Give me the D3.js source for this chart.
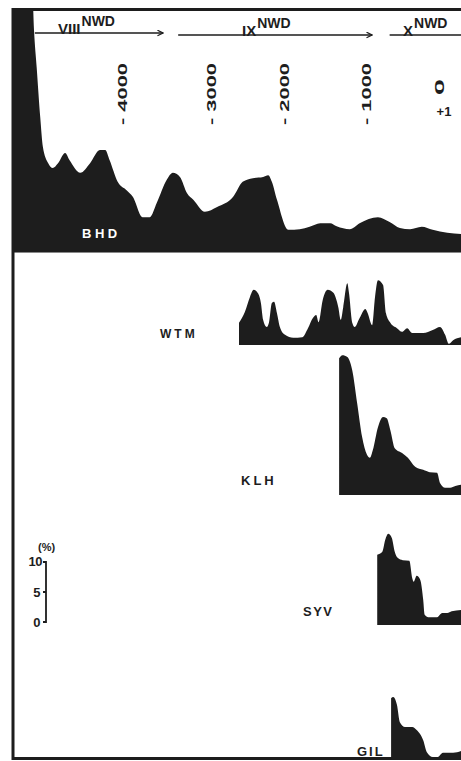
<!DOCTYPE html>
<html>
<head>
<meta charset="utf-8">
<script src="https://cdn.jsdelivr.net/npm/d3@7"></script>
<style>
  body { margin: 0; background: #fff; }
  svg { display: block; font-family: "Liberation Sans", Arial, sans-serif; }
</style>
</head>
<body>
<svg id="chart" width="461" height="761"></svg>
<script>
// years (cal. BC negative) and pollen values in %
const bhdYears = [-5250, -5030, -5000, -4970, -4930, -4900, -4840, -4790, -4730, -4650, -4600, -4480, -4370, -4260, -4200, -4150, -4060, -3960, -3890, -3780, -3700, -3620, -3510, -3440, -3360, -3280, -3210, -3080, -2930, -2710, -2580, -2440, -2300, -2230, -2180, -2110, -1960, -1820, -1700, -1570, -1450, -1370, -1210, -1090, -850, -690, -550, -410, -250, -100, 100, 290];
const bhdPct = [48, 48, 37.0, 30.8, 22.5, 17.5, 14.8, 14.0, 14.8, 16.5, 15.3, 13.2, 14.8, 17.0, 17.0, 15.3, 11.7, 10.3, 9.2, 5.8, 5.8, 8.2, 12.0, 13.2, 12.5, 9.8, 8.7, 6.7, 7.5, 9.2, 11.7, 12.3, 12.5, 12.8, 11.7, 8.7, 3.7, 3.8, 4.2, 4.8, 4.8, 4.3, 3.8, 4.8, 5.8, 5.0, 4.0, 3.8, 4.2, 3.7, 3.2, 3.0];

const wtmYears = [-2630, -2550, -2480, -2430, -2380, -2330, -2300, -2250, -2220, -2180, -2150, -2110, -2070, -2000, -1900, -1790, -1720, -1660, -1620, -1590, -1540, -1480, -1410, -1350, -1320, -1290, -1240, -1220, -1180, -1150, -1090, -1020, -990, -930, -890, -850, -780, -740, -680, -590, -520, -450, -380, -230, -100, 0, 70, 120, 180, 290];
const wtmPct = [3.7, 5.5, 8.0, 9.2, 8.8, 7.0, 4.2, 3.0, 3.7, 7.0, 7.2, 5.3, 3.0, 1.7, 1.2, 1.3, 2.8, 4.5, 5.0, 3.8, 7.5, 9.2, 8.7, 6.3, 4.2, 6.3, 10.3, 8.7, 3.7, 3.0, 4.5, 6.0, 5.3, 3.3, 8.0, 10.8, 10.0, 5.3, 3.7, 2.8, 2.2, 2.8, 2.0, 2.0, 2.5, 3.0, 1.7, 0.2, 0.8, 1.3];

const klhYears = [-1340, -1300, -1240, -1180, -1120, -1060, -1000, -960, -920, -850, -780, -730, -680, -620, -520, -440, -340, -230, -140, -40, 0, 70, 140, 210, 290];
const klhPct = [22.8, 23.3, 23.0, 20.8, 15.3, 9.7, 6.7, 6.2, 7.5, 11.3, 13.0, 12.8, 10.8, 7.8, 7.0, 6.2, 4.7, 4.2, 3.8, 3.7, 2.0, 1.2, 1.2, 1.5, 1.7];

const syvYears = [-860, -790, -750, -710, -660, -620, -580, -510, -420, -380, -360, -320, -270, -230, -210, -160, -40, 30, 100, 160, 290];
const syvPct = [11.7, 12.2, 14.2, 15.2, 14.5, 12.2, 11.2, 10.8, 10.7, 7.8, 7.2, 8.2, 7.5, 4.2, 1.7, 1.3, 1.3, 2.0, 2.0, 2.3, 2.5];

const gilYears = [-670, -640, -590, -550, -480, -380, -320, -230, -180, -100, -30, 40, 180, 290];
const gilPct = [9.8, 10.0, 8.7, 5.8, 5.0, 5.0, 4.5, 2.8, 0.8, 0, 0, 0.7, 0.7, 1.0];

const panelNames = ["BHD", "WTM", "KLH", "SYV", "GIL"];
const yearTicks = [-4000, -3000, -2000, -1000, 0];
const yearTickLabels = ["- 4000", "- 3000", "- 2000", "- 1000", "0"];
const zoneNames = ["VIII", "IX", "X"];
const zoneStart = [-4990, -3380, -690];
const zoneEnd = [-3550, -930, 400];
const scaleTicks = [0, 5, 10];

const series = [
    {years: bhdYears, pct: bhdPct},
    {years: wtmYears, pct: wtmPct},
    {years: klhYears, pct: klhPct},
    {years: syvYears, pct: syvPct},
    {years: gilYears, pct: gilPct}
];

// layout
const W = 461, H = 761;
const frameLeft = 13, frameTop = 9.5, frameBottom = 758.5;
const baselines = [252, 345, 495, 625, 757];
const pxPerPct = 6;
const ink = "#1d1d1d";
const labelPos = [
    {x: 82, y: 238, size: 13, ls: 3.5, fill: "#fff"},
    {x: 160, y: 338, size: 12, ls: 3, fill: ink},
    {x: 241, y: 485, size: 13, ls: 3, fill: ink},
    {x: 303, y: 616, size: 13, ls: 1.5, fill: ink},
    {x: 357, y: 756, size: 13, ls: 2, fill: ink}
];
const zoneLayout = [
    {lineY: 33, numX: 58},
    {lineY: 35, numX: 242},
    {lineY: 35, numX: 403}
];

const svg = d3.select("#chart");

// piecewise time axis (radiocarbon years are not evenly spaced along the core)
const x = d3.scaleLinear()
    .domain(yearTicks)
    .range([123, 212, 285, 367, 440]);

svg.append("defs").append("clipPath").attr("id", "plotClip")
    .append("rect")
    .attr("x", frameLeft).attr("y", frameTop)
    .attr("width", W - frameLeft).attr("height", frameBottom - frameTop);

svg.append("defs").append("marker")
    .attr("id", "arrow")
    .attr("viewBox", "0 0 10 10")
    .attr("refX", 9).attr("refY", 5)
    .attr("markerWidth", 7).attr("markerHeight", 7)
    .attr("markerUnits", "userSpaceOnUse")
    .attr("orient", "auto")
    .append("path")
    .attr("d", "M1,1 L9,5 L1,9")
    .attr("fill", "none")
    .attr("stroke", ink)
    .attr("stroke-width", 1.8);

const plots = svg.append("g").attr("clip-path", "url(#plotClip)");

series.forEach((s, i) => {
    const base = baselines[i];
    const y = d3.scaleLinear().domain([0, 10]).range([base, base - 10 * pxPerPct]);
    const pts = s.years.map((yr, j) => ({year: yr, v: s.pct[j]}));
    const area = d3.area()
        .x(d => x(d.year))
        .y0(y(0))
        .y1(d => y(d.v))
        .curve(d3.curveMonotoneX);
    plots.append("path")
        .datum(pts)
        .attr("d", area)
        .attr("fill", ink);

    const lp = labelPos[i];
    svg.append("text")
        .attr("x", lp.x).attr("y", lp.y)
        .attr("font-size", lp.size)
        .attr("font-weight", "bold")
        .attr("letter-spacing", lp.ls)
        .attr("fill", lp.fill)
        .text(panelNames[i]);
});

// BHD baseline
svg.append("line")
    .attr("x1", frameLeft).attr("x2", W)
    .attr("y1", baselines[0] + 0.5).attr("y2", baselines[0] + 0.5)
    .attr("stroke", "#888").attr("stroke-width", 1);

// frame
svg.append("path")
    .attr("d", `M${W},${frameTop} H${frameLeft} V${frameBottom} H${W}`)
    .attr("fill", "none")
    .attr("stroke", ink)
    .attr("stroke-width", 3);

// time labels
yearTicks.forEach((yr, i) => {
    const isZero = yr === 0;
    svg.append("text")
        .attr("transform", `translate(${x(yr)},${isZero ? 95 : 125}) rotate(-90)`)
        .attr("dy", "0.35em")
        .attr("font-size", 12)
        .attr("font-weight", "bold")
        .attr("fill", ink)
        .attr("textLength", isZero ? 16 : 62)
        .attr("lengthAdjust", "spacingAndGlyphs")
        .text(yearTickLabels[i]);
});
svg.append("text")
    .attr("x", x(0) + 4).attr("y", 116)
    .attr("text-anchor", "middle")
    .attr("font-size", 13)
    .attr("font-weight", "bold")
    .attr("fill", ink)
    .text("+1");

// NWD zones
zoneNames.forEach((z, i) => {
    const zl = zoneLayout[i];
    svg.append("line")
        .attr("x1", x(zoneStart[i])).attr("x2", x(zoneEnd[i]))
        .attr("y1", zl.lineY).attr("y2", zl.lineY)
        .attr("stroke", ink).attr("stroke-width", 1.6)
        .attr("marker-end", "url(#arrow)");
    const t = svg.append("text")
        .attr("x", zl.numX).attr("y", zl.lineY + 1)
        .attr("fill", ink);
    t.append("tspan")
        .attr("font-size", 15)
        .attr("font-weight", "bold")
        .text(z);
    t.append("tspan")
        .attr("font-size", 14)
        .attr("font-weight", "bold")
        .attr("dy", -8)
        .attr("dx", 1)
        .text("NWD");
});

// percent scale bar
const sb = d3.scaleLinear().domain([0, 10]).range([622, 562]);
const sbx = 46;
svg.append("path")
    .attr("d", `M${sbx - 3},${sb(10)} H${sbx} V${sb(0)} H${sbx - 3} M${sbx},${sb(5)} H${sbx - 3}`)
    .attr("fill", "none")
    .attr("stroke", ink)
    .attr("stroke-width", 1.8);
scaleTicks.forEach(v => {
    svg.append("text")
        .attr("x", v === 10 ? 42 : 40)
        .attr("y", sb(v) + (v === 10 ? 4 : 5))
        .attr("text-anchor", "end")
        .attr("font-size", 13)
        .attr("font-weight", "bold")
        .attr("letter-spacing", -0.5)
        .attr("fill", ink)
        .text(v);
});
svg.append("text")
    .attr("x", 38).attr("y", 551)
    .attr("font-size", 11)
    .attr("font-weight", "bold")
    .attr("fill", ink)
    .text("(%)");
</script>
</body>
</html>
